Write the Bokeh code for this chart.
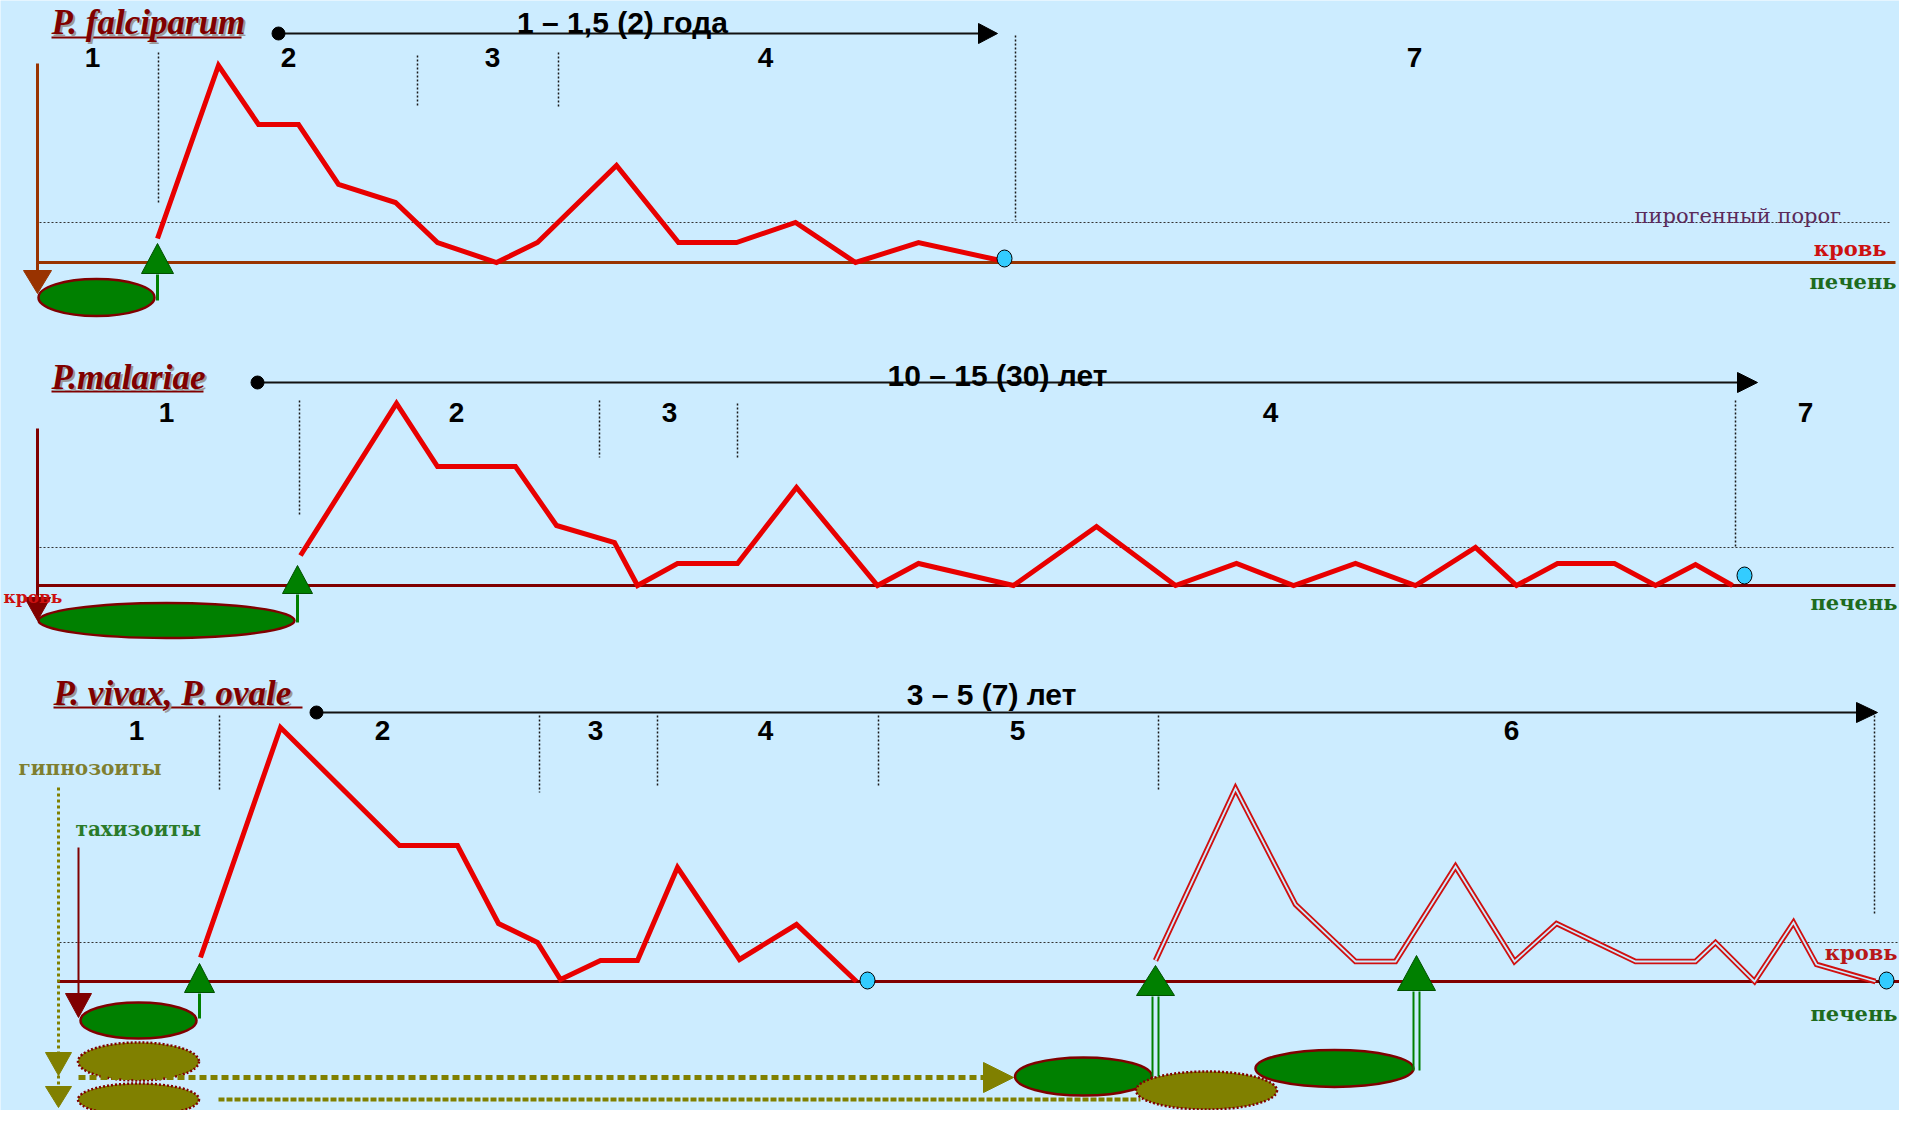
from bokeh.plotting import figure
from bokeh.models import Range1d, Label
from bokeh.embed import file_html
from bokeh.resources import INLINE

# ---------------- data (schematic time units / parasitaemia above the blood line) ----------------
FALC_T = [157, 218, 258, 298, 338, 395, 437, 496, 537, 616, 678, 736, 795, 855, 918, 1000]
FALC_P = [24, 197, 138, 138, 78, 60, 20, 0, 20, 97, 20, 20, 40, 0, 20, 2]

MAL_T = [300, 396, 437, 515, 556, 614, 637, 677, 737, 796, 877, 918, 1013, 1096, 1175, 1236,
         1293, 1355, 1415, 1475, 1516, 1557, 1614, 1655, 1695, 1732]
MAL_P = [30, 182, 119, 119, 60, 43, 0, 22, 22, 98, 0, 22, 0, 59, 0, 22,
         0, 22, 0, 38, 0, 22, 22, 0, 21, 0]

VIV_T = [200, 280, 399, 457, 498, 537, 560, 600, 637, 677, 739, 796, 856]
VIV_P = [24, 254, 136, 136, 58, 39, 2, 21, 21, 114, 22, 57, 0]

REL_T = [1155, 1235, 1295, 1355, 1395, 1455, 1514, 1556, 1635, 1695, 1715, 1754, 1793, 1816, 1875]
REL_P = [21, 193, 77, 20, 20, 115, 20, 58, 20, 20, 39, 0, 59, 17, 0]

THRESHOLD = [40, 38, 39]
END_T = [1004, 1744, 867, 1886]
END_P = [4, 10, 1, 1]

TITLES = ["P. falciparum", "P.malariae", "P. vivax,  P. ovale"]
DURATIONS = ["1 – 1,5 (2) года", "10 – 15 (30) лет", "3 – 5 (7) лет"]
PHASES = [["1", "2", "3", "4", "7"], ["1", "2", "3", "4", "7"], ["1", "2", "3", "4", "5", "6"]]

# ---------------- styling / layout ----------------
BG = "#CCECFF"
RED = "#E80000"
GREEN = "#008000"
OLIVE = "#808000"
MAROON = "#800000"
SERIF = "Liberation Serif"
SANS = "Liberation Sans"
DSERIF = "DejaVu Serif"
W, H = 1899, 1110
BASES = {"p1": 262, "p2": 585, "p3": 981}

p = figure(width=W, height=H, x_range=Range1d(0, W), y_range=Range1d(0, H),
           output_backend="svg", toolbar_location=None,
           x_axis_location=None, y_axis_location=None, min_border=0,
           background_fill_color=BG, border_fill_color=BG, outline_line_color=None)
for g in p.grid:
    g.visible = False
# each panel: level 0 on its blood line, levels measured upward
p.extra_y_ranges = {k: Range1d(b - H, b) for k, b in BASES.items()}


class Panel:
    def __init__(self, name):
        self.rn = name
        self.b = BASES[name]

    def Y(self, y):
        return self.b - y

    def seg(self, x0, y0, x1, y1, **kw):
        xs0 = x0 if isinstance(x0, list) else [x0]
        xs1 = x1 if isinstance(x1, list) else [x1]
        p.segment(x0=xs0, y0=[self.Y(y0)] * len(xs0), x1=xs1, y1=[self.Y(y1)] * len(xs1),
                  y_range_name=self.rn, **kw)

    def hline(self, x0, x1, level, **kw):
        p.segment(x0=[x0], y0=[level], x1=[x1], y1=[level], y_range_name=self.rn, **kw)

    def lab(self, x, y, text, font, size, color, style="normal", align="left"):
        p.add_layout(Label(x=x, y=self.Y(y), text=text, text_font=font, text_font_size=f"{size}px",
                           text_color=color, text_font_style=style, text_align=align,
                           text_baseline="middle", y_range_name=self.rn))

    def tri_v(self, x, base_y, tip_y, hw, fill, line):
        p.patch([x - hw, x + hw, x], [self.Y(base_y), self.Y(base_y), self.Y(tip_y)],
                fill_color=fill, line_color=line, line_width=1, y_range_name=self.rn)

    def tri_h(self, y, base_x, tip_x, hh, fill, line):
        p.patch([base_x, base_x, tip_x], [self.Y(y - hh), self.Y(y + hh), self.Y(y)],
                fill_color=fill, line_color=line, line_width=1, y_range_name=self.rn)

    def ell(self, x, y, w, h, fill, dash="solid"):
        p.ellipse([x], [self.Y(y)], width=w, height=h, fill_color=fill, line_color=MAROON,
                  line_width=2.5, line_dash=dash, y_range_name=self.rn)

    def title(self, x, yc, text, ul_y, ul_end):
        self.lab(x + 2, yc + 2, text, SERIF, 35, "#9a9a9a", "bold italic")
        self.lab(x, yc, text, SERIF, 35, MAROON, "bold italic")
        self.seg(x, ul_y, ul_end, ul_y, line_color=MAROON, line_width=2)

    def timeline(self, x_dot, y, base_x, tip_x, label, lx, ly):
        self.seg(x_dot, y, base_x, y, line_color="#111111", line_width=2)
        p.scatter([x_dot], [self.Y(y)], size=13, color="#000000", y_range_name=self.rn)
        self.tri_h(y, base_x, tip_x, 10, "#000000", "#000000")
        self.lab(lx, ly, label, SANS, 30, "#000000", "bold", align="center")

    def separators(self, seps):
        for x, a, b in seps:
            self.seg(x, a, x, b, line_color="#1a1a1a", line_width=1.5, line_dash="2 2")

    def phases(self, labels, xs, y):
        for t, x in zip(labels, xs):
            self.lab(x, y, t, SANS, 28, "#000000", "bold", align="center")

    def curve(self, t, v, color=RED, width=5):
        p.line(t, v, line_color=color, line_width=width, line_join="miter", y_range_name=self.rn)

    def end_dot(self, i):
        p.ellipse([END_T[i]], [END_P[i]], width=15, height=17, fill_color="#33CCFF",
                  line_color="#000000", line_width=1, y_range_name=self.rn)

    def green_arrow(self, x, y_from, base_y, tip_y, hw, double=False):
        if double:
            self.seg([x - 3, x + 3], y_from, [x - 3, x + 3], base_y + 1, line_color=GREEN, line_width=2)
        else:
            self.seg(x, y_from, x, base_y + 1, line_color=GREEN, line_width=3)
        self.tri_v(x, base_y, tip_y, hw, GREEN, "#005000")


THR_STYLE = dict(line_color="#333333", line_width=1.2, line_dash="2 2")

# ================= Panel 1: P. falciparum =================
a = Panel("p1")
a.hline(39, 1889, THRESHOLD[0], **THR_STYLE)
a.hline(37, 1895, 0, line_color="#993300", line_width=3)
a.separators([(158, 52, 203), (417, 55, 107), (558, 52, 107), (1015, 35, 220)])
a.ell(96, 297, 116, 37, GREEN)
a.seg(37, 63, 37, 272, line_color="#993300", line_width=3)
a.tri_v(37, 270, 293, 14, "#993300", "#993300")
a.green_arrow(157, 300, 273, 243, 16)
a.curve(FALC_T, FALC_P)
a.end_dot(0)
a.timeline(278, 33, 978, 997, DURATIONS[0], 622, 22)
a.title(51, 22, TITLES[0], 37, 241)
a.phases(PHASES[0], [92, 288, 492, 765, 1414], 57)
a.lab(1634, 215, "пирогенный порог", DSERIF, 21, "#5A2A5A")
a.lab(1886, 248, "кровь", DSERIF, 21, "#CC1111", "bold", align="right")
a.lab(1896, 281, "печень", DSERIF, 21, "#1E6B1E", "bold", align="right")

# ================= Panel 2: P. malariae =================
b = Panel("p2")
b.hline(39, 1893, THRESHOLD[1], **THR_STYLE)
b.hline(37, 1895, 0, line_color=MAROON, line_width=3)
b.separators([(299, 400, 515), (599, 400, 457), (737, 403, 457), (1735, 400, 547)])
b.lab(3, 596, "кровь", DSERIF, 17, "#CC1111", "bold")
b.ell(166, 620, 256, 35, GREEN)
b.seg(37, 428, 37, 598, line_color=MAROON, line_width=3)
b.tri_v(37, 597, 620, 13, MAROON, MAROON)
b.green_arrow(297, 622, 593, 565, 15)
b.curve(MAL_T, MAL_P)
b.end_dot(1)
b.timeline(257, 382, 1737, 1757, DURATIONS[1], 997, 375)
b.title(51, 377, TITLES[1], 391, 203)
b.phases(PHASES[1], [166, 456, 669, 1270, 1805], 412)
b.lab(1897, 602, "печень", DSERIF, 21, "#1E6B1E", "bold", align="right")

# ================= Panel 3: P. vivax, P. ovale =================
c = Panel("p3")
c.hline(59, 1899, THRESHOLD[2], **THR_STYLE)
c.hline(57, 1899, 0, line_color=MAROON, line_width=3)
c.separators([(219, 715, 790), (539, 715, 792), (657, 715, 787), (878, 715, 787),
              (1158, 715, 790), (1874, 715, 913)])
# hypnozoite path
c.seg(58, 787, 58, 1088, line_color=OLIVE, line_width=3, line_dash="3 3")
c.tri_v(58, 1052, 1075, 13, OLIVE, OLIVE)
c.tri_v(58, 1086, 1107, 13, OLIVE, OLIVE)
c.seg(218, 1099, 1140, 1099, line_color=OLIVE, line_width=4, line_dash="6 2")
# liver stages
c.ell(138, 1020, 116, 36, GREEN)
c.ell(138, 1061, 121, 38, OLIVE, "2 2")
c.ell(138, 1099, 121, 32, OLIVE, "2 2")
c.ell(1083, 1076, 137, 38, GREEN)
c.ell(1206, 1090, 141, 38, OLIVE, "2 2")
c.ell(1334, 1068, 158, 37, GREEN)
c.seg(78, 1077, 983, 1077, line_color=OLIVE, line_width=5, line_dash="7 4")
c.tri_h(1077, 983, 1013, 15, OLIVE, OLIVE)
# tachyzoite arrow
c.seg(78, 847, 78, 995, line_color=MAROON, line_width=2)
c.tri_v(78, 993, 1017, 13, MAROON, MAROON)
# arrows into the blood
c.green_arrow(199, 1018, 992, 963, 15)
c.green_arrow(1155, 1076, 995, 965, 19, double=True)
c.green_arrow(1416, 1070, 990, 955, 19, double=True)
# blood curves
c.curve(VIV_T, VIV_P)
c.curve(REL_T, REL_P, color="#D01010", width=5.5)
c.curve(REL_T, REL_P, color=BG, width=1.8)
c.end_dot(2)
c.end_dot(3)
c.timeline(316, 712, 1856, 1877, DURATIONS[2], 991, 694)
c.title(53, 693, TITLES[2], 707, 302)
c.phases(PHASES[2], [136, 382, 595, 765, 1017, 1511], 730)
c.lab(18, 767, "гипнозоиты", DSERIF, 20, "#7F7F30", "bold")
c.lab(75, 828, "тахизоиты", DSERIF, 20, "#2A7A2A", "bold")
c.lab(1897, 952, "кровь", DSERIF, 21, "#B81818", "bold", align="right")
c.lab(1897, 1013, "печень", DSERIF, 21, "#1E6B1E", "bold", align="right")

open("out.html", "w").write(file_html(p, INLINE))
